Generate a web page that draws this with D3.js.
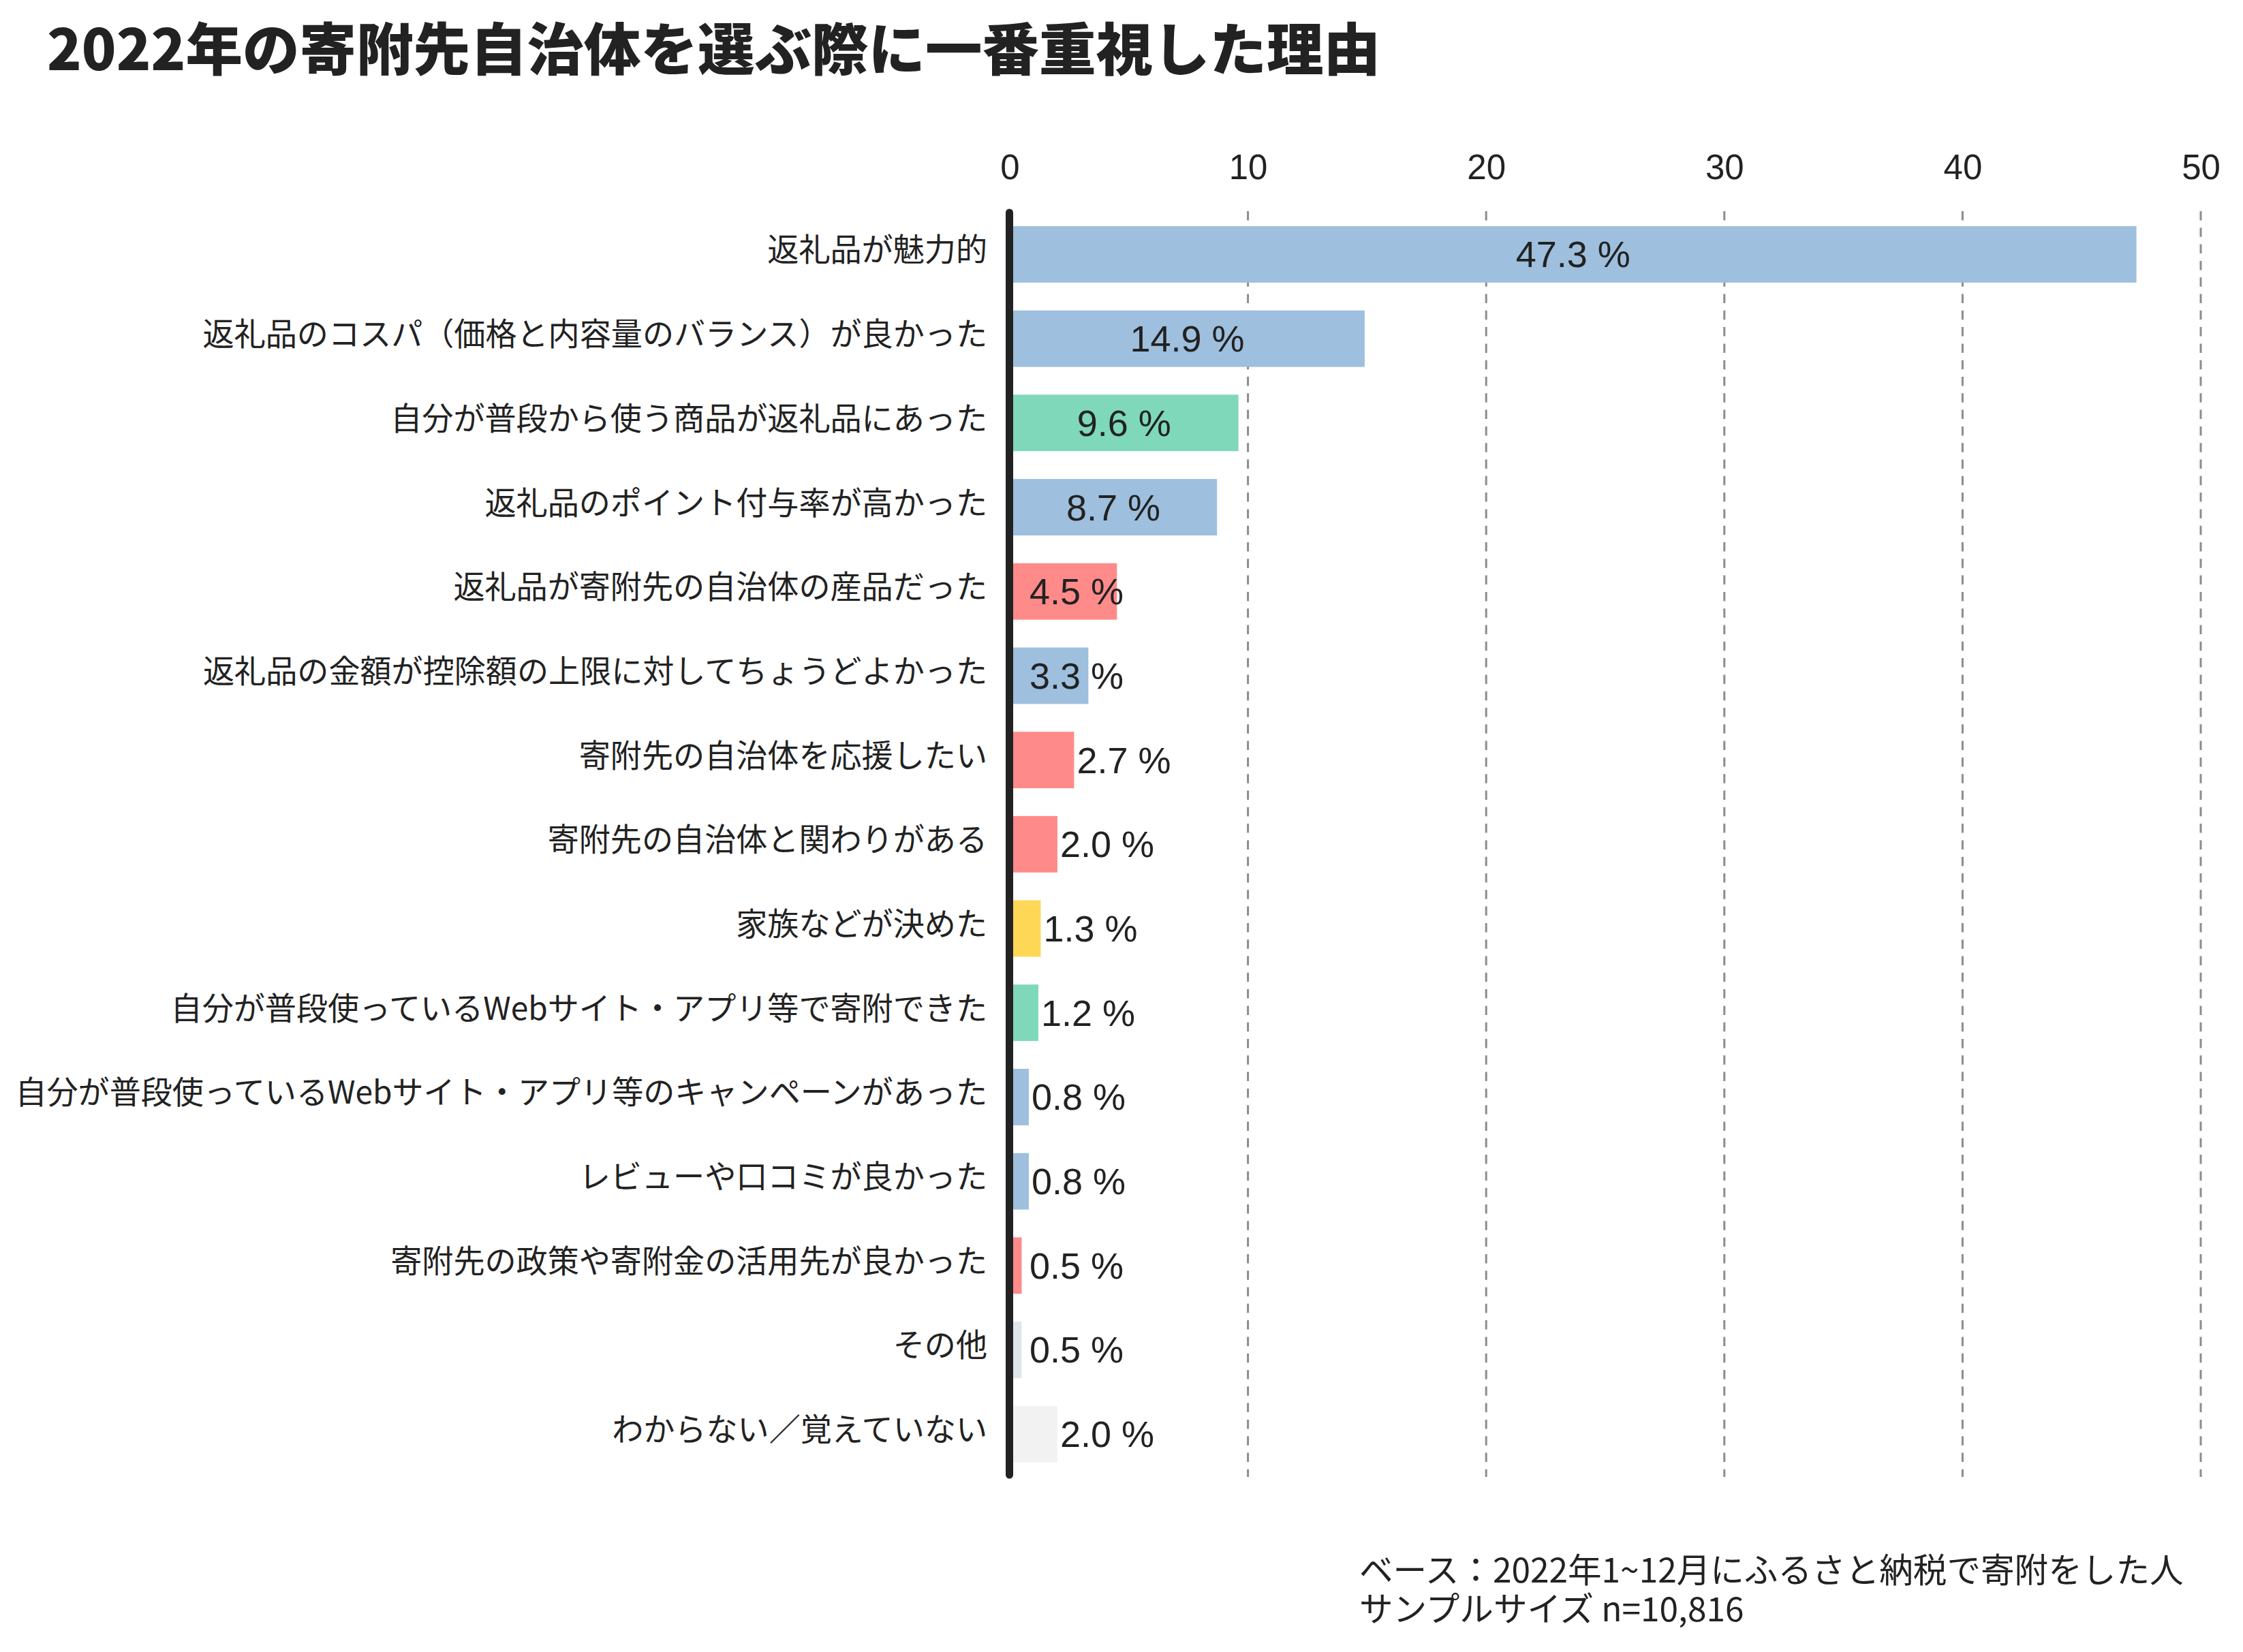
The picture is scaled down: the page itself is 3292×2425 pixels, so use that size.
<!DOCTYPE html>
<html>
<head>
<meta charset="utf-8">
<script src="https://cdn.jsdelivr.net/npm/d3@7"></script>
<style>
  html, body { margin: 0; padding: 0; background: #ffffff; }
  svg { display: block; }
</style>
</head>
<body>
<svg id="chart" width="3292" height="2425"></svg>
<script>
const titleText = "2022年の寄附先自治体を選ぶ際に一番重視した理由";
const categories = [
  "返礼品が魅力的",
  "返礼品のコスパ（価格と内容量のバランス）が良かった",
  "自分が普段から使う商品が返礼品にあった",
  "返礼品のポイント付与率が高かった",
  "返礼品が寄附先の自治体の産品だった",
  "返礼品の金額が控除額の上限に対してちょうどよかった",
  "寄附先の自治体を応援したい",
  "寄附先の自治体と関わりがある",
  "家族などが決めた",
  "自分が普段使っているWebサイト・アプリ等で寄附できた",
  "自分が普段使っているWebサイト・アプリ等のキャンペーンがあった",
  "レビューや口コミが良かった",
  "寄附先の政策や寄附金の活用先が良かった",
  "その他",
  "わからない／覚えていない"
];
const values = [47.3, 14.9, 9.6, 8.7, 4.5, 3.3, 2.7, 2.0, 1.3, 1.2, 0.8, 0.8, 0.5, 0.5, 2.0];
const groups = ["product", "product", "habit", "product", "region", "product", "region", "region", "family", "habit", "product", "product", "region", "other", "unknown"];
const groupNames = ["product", "habit", "region", "family", "other", "unknown"];
const groupColors = ["#9ebfdd", "#7ed8b9", "#ff8a8a", "#ffd757", "#e1e6ea", "#f2f2f2"];
const xTicks = [0, 10, 20, 30, 40, 50];
const footnotes = ["ベース：2022年1~12月にふるさと納税で寄附をした人", "サンプルサイズ n=10,816"];

const svg = d3.select("#chart");
const jp = "'Noto Sans CJK JP', 'Noto Sans', sans-serif";
const num = "'Liberation Sans', Arial, sans-serif";
const ink = "#222222";

const x = d3.scaleLinear().domain([0, 50]).range([1482, 3230]);
const y = d3.scaleBand().domain(categories).range([311.6, 2167]).paddingInner(0.33).paddingOuter(0.165);
const color = d3.scaleOrdinal().domain(groupNames).range(groupColors);

// title
svg.append("text")
  .attr("x", 69).attr("y", 103)
  .attr("font-family", jp).attr("font-weight", 900).attr("font-size", 83.5)
  .attr("fill", ink)
  .text(titleText);

// grid lines
svg.append("g").selectAll("line")
  .data(xTicks.filter(d => d > 0))
  .join("line")
  .attr("x1", d => x(d)).attr("x2", d => x(d))
  .attr("y1", 310).attr("y2", 2168)
  .attr("stroke", "#8c8c8c").attr("stroke-width", 3)
  .attr("stroke-dasharray", "13.5,10.8");

// top axis tick labels
const axis = d3.axisTop(x).tickValues(xTicks).tickSize(0).tickPadding(0).tickFormat(d3.format("d"));
const gAxis = svg.append("g").attr("transform", "translate(0,263)").call(axis);
gAxis.select(".domain").remove();
gAxis.selectAll("text")
  .attr("font-family", num).attr("font-size", 51).attr("fill", ink)
  .attr("y", 0).attr("dy", 0);

// bars
svg.append("g").selectAll("rect")
  .data(values)
  .join("rect")
  .attr("x", x(0))
  .attr("y", (d, i) => y(categories[i]))
  .attr("width", d => x(d) - x(0))
  .attr("height", y.bandwidth())
  .attr("fill", (d, i) => color(groups[i]));

// category labels
svg.append("g").selectAll("text")
  .data(categories)
  .join("text")
  .attr("x", 1449)
  .attr("y", d => y(d) + y.bandwidth() / 2 + 10)
  .attr("text-anchor", "end")
  .attr("font-family", jp).attr("font-size", 46.1).attr("fill", ink)
  .text(d => d);

// value labels
const vl = svg.append("g").selectAll("text")
  .data(values)
  .join("text")
  .attr("y", (d, i) => y(categories[i]) + y.bandwidth() / 2 + 19)
  .attr("text-anchor", "middle")
  .attr("font-family", num).attr("font-size", 54).attr("fill", ink)
  .text(d => d.toFixed(1) + " %");
vl.attr("x", function(d) {
  const w = this.getComputedTextLength();
  const mid = (x(0) + x(d)) / 2;
  const minC = x(0) + 98;
  let c = Math.max(mid, minC);
  if (d < 3) c = Math.max(c, x(d) + 4 + w / 2);
  return c;
});

// vertical axis line
svg.append("line")
  .attr("x1", 1481.5).attr("x2", 1481.5)
  .attr("y1", 312).attr("y2", 2165)
  .attr("stroke", ink).attr("stroke-width", 11)
  .attr("stroke-linecap", "round");

// footnotes
svg.append("g").selectAll("text")
  .data(footnotes)
  .join("text")
  .attr("x", 1995)
  .attr("y", (d, i) => 2323 + i * 57)
  .attr("font-family", jp).attr("font-size", 49.6).attr("fill", ink)
  .text(d => d);
</script>
</body>
</html>
